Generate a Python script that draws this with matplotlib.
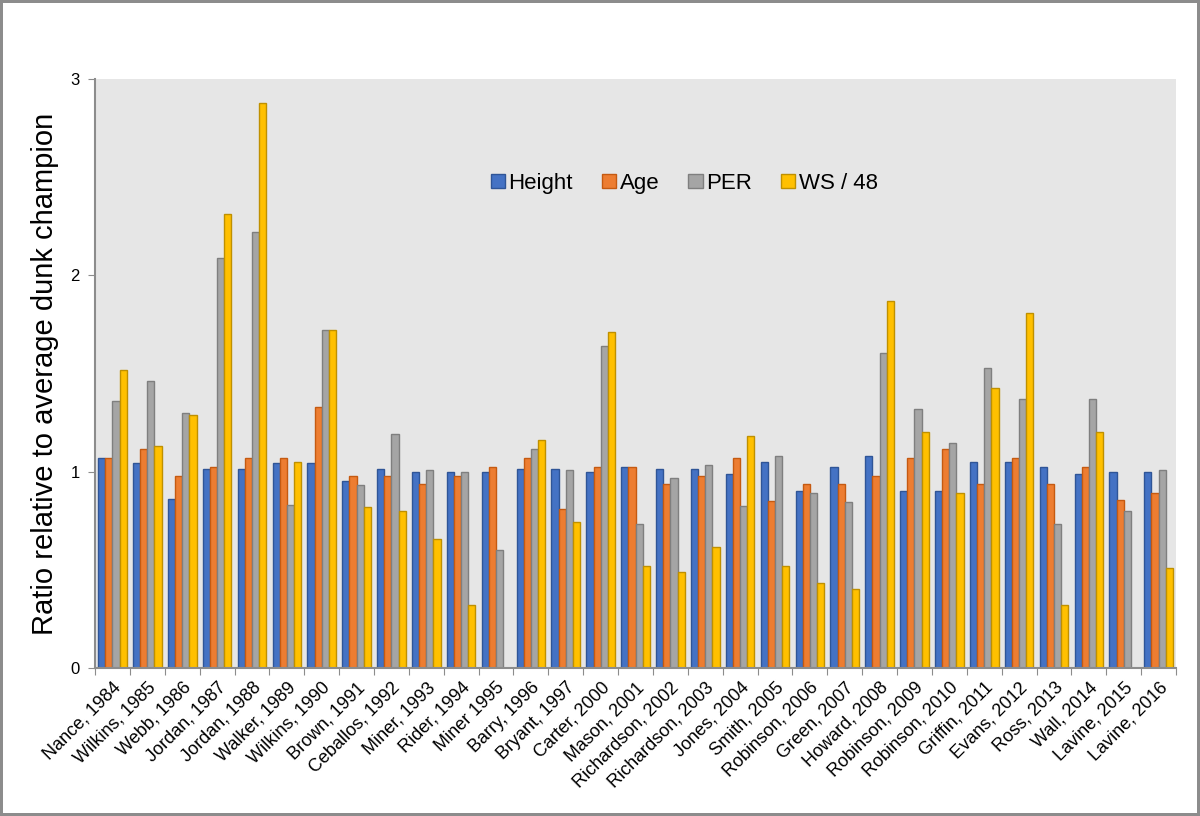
import matplotlib.pyplot as plt
import numpy as np

plt.rcParams['font.family'] = ['Liberation Sans', 'DejaVu Sans']

# Dunk-Champions
spieler = ['Nance, 1984', 'Wilkins, 1985', 'Webb, 1986', 'Jordan, 1987', 'Jordan, 1988',
           'Walker, 1989', 'Wilkins, 1990', 'Brown, 1991', 'Ceballos, 1992', 'Miner, 1993',
           'Rider, 1994', 'Miner 1995', 'Barry, 1996', 'Bryant, 1997', 'Carter, 2000',
           'Mason, 2001', 'Richardson, 2002', 'Richardson, 2003', 'Jones, 2004', 'Smith, 2005',
           'Robinson, 2006', 'Green, 2007', 'Howard, 2008', 'Robinson, 2009', 'Robinson, 2010',
           'Griffin, 2011', 'Evans, 2012', 'Ross, 2013', 'Wall, 2014', 'Lavine, 2015', 'Lavine, 2016']

height = [1.07, 1.045, 0.86, 1.016, 1.016, 1.045, 1.045, 0.95, 1.015, 1.0,
          1.0, 1.0, 1.015, 1.015, 1.0, 1.025, 1.015, 1.015, 0.99, 1.05,
          0.9, 1.025, 1.08, 0.9, 0.9, 1.05, 1.05, 1.025, 0.99, 1.0, 1.0]
age = [1.07, 1.115, 0.98, 1.023, 1.07, 1.07, 1.33, 0.98, 0.98, 0.935,
       0.98, 1.025, 1.07, 0.81, 1.025, 1.025, 0.935, 0.98, 1.07, 0.85,
       0.935, 0.935, 0.98, 1.07, 1.115, 0.935, 1.07, 0.935, 1.025, 0.855, 0.89]
per = [1.36, 1.46, 1.30, 2.09, 2.22, 0.83, 1.72, 0.93, 1.19, 1.01,
       1.0, 0.60, 1.115, 1.01, 1.64, 0.735, 0.97, 1.034, 0.826, 1.08,
       0.89, 0.845, 1.605, 1.32, 1.145, 1.53, 1.37, 0.735, 1.37, 0.80, 1.007]
# fehlende Werte (kein Balken) als nan
ws48 = [1.52, 1.13, 1.29, 2.31, 2.88, 1.05, 1.72, 0.82, 0.80, 0.655,
        0.32, np.nan, 1.16, 0.745, 1.71, 0.52, 0.49, 0.617, 1.18, 0.52,
        0.435, 0.40, 1.87, 1.20, 0.89, 1.425, 1.81, 0.32, 1.20, np.nan, 0.51]

serien = [('Height', height, '#4472C4', '#2F5597'),
          ('Age', age, '#ED7D31', '#C55A11'),
          ('PER', per, '#A5A5A5', '#7F7F7F'),
          ('WS / 48', ws48, '#FFC000', '#BF9000')]

fig = plt.figure(figsize=(12, 8.16), dpi=100, edgecolor='#8c8c8c', linewidth=4)
ax = fig.add_axes([0.0792, 0.1814, 0.9008, 0.7218])
ax.set_facecolor('#e6e6e6')

x = np.arange(len(spieler))
breite = 0.205
for i, (name, werte, farbe, rand) in enumerate(serien):
    ax.bar(x + (i - 1.5) * breite, werte, breite, color=farbe, edgecolor=rand,
           linewidth=1, label=name)

ax.set_xlim(-0.5, len(spieler) - 0.5)
ax.set_ylim(0, 3)
ax.set_yticks([0, 1, 2, 3])
ax.tick_params(axis='y', labelsize=12, length=5, color='#8c8c8c', pad=6)

# Striche zwischen den Gruppen, Beschriftung in der Mitte
ax.set_xticks(np.arange(-0.5, len(spieler)), minor=False)
ax.set_xticklabels([])
ax.set_xticks(x, minor=True)
ax.set_xticklabels(spieler, minor=True, rotation=45, ha='right', rotation_mode='anchor',
                   fontsize=13)
ax.tick_params(axis='x', which='major', length=5, color='#8c8c8c')
ax.tick_params(axis='x', which='minor', length=0, pad=8)

for s in ['top', 'right']:
    ax.spines[s].set_visible(False)
for s in ['left', 'bottom']:
    ax.spines[s].set_color('#8c8c8c')
    ax.spines[s].set_linewidth(1.5)

ax.set_ylabel('Ratio relative to average dunk champion', fontsize=21, labelpad=8)

ax.legend(loc='center', bbox_to_anchor=(0.545, 0.823), ncol=4, frameon=False,
          fontsize=16, handlelength=0.65, handleheight=0.65, handletextpad=0.15,
          columnspacing=1.3)

plt.savefig('out.png', dpi=100)
